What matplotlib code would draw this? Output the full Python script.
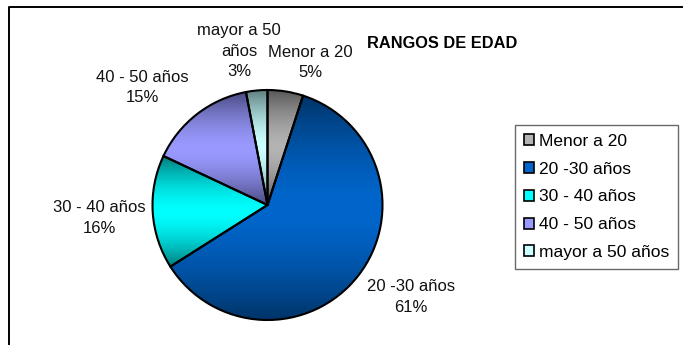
import numpy as np
import matplotlib
matplotlib.use("Agg")
import matplotlib.pyplot as plt
from matplotlib import colors
from matplotlib.patches import Patch

plt.rcParams["font.family"] = ["Liberation Sans", "DejaVu Sans"]

# rangos de edad (porcentaje)
categorias = ["Menor a 20", "20 -30 años", "30 - 40 años", "40 - 50 años", "mayor a 50 años"]
etiquetas = ["Menor a 20", "20 -30 años", "30 - 40 años", "40 - 50 años", "mayor a 50\naños"]
valores = [5, 61, 16, 15, 3]

claros = ["#b4b4b4", "#0066cc", "#00ffff", "#9999ff", "#ccffff"]
oscuros = ["#585858", "#003366", "#007a7a", "#4a4a80", "#5f8080"]

W, H = 683, 345
fig = plt.figure(figsize=(W / 100, H / 100), dpi=100)
ax = fig.add_axes([0, 0, 1, 1])

# marco del gráfico (solo se ven arriba y a la izquierda)
ax.plot([8.5, 8.5, W + 5], [-5, H - 6.5, H - 6.5], color="black", lw=1.4, zorder=1)

cx, cy, r = 267.5, H - 205, 115
wedges, _ = ax.pie(valores, startangle=90, counterclock=False, center=(cx, cy),
                   radius=r, colors=claros, frame=True,
                   wedgeprops=dict(edgecolor="black", linewidth=1.5))
ax.set_xlim(0, W); ax.set_ylim(0, H)
ax.set_aspect("equal"); ax.axis("off")

# relleno degradado oscuro-claro-oscuro dentro de cada porción
t = np.linspace(0, 1, 256)
perfil = np.clip(1 - np.abs(2 * t - 1) ** 1.6, 0, 1)
for w, c1, c0 in zip(wedges, claros, oscuros):
    v = w.get_patch_transform().transform(w.get_path().vertices)
    x0, x1 = v[:, 0].min(), v[:, 0].max()
    y0, y1 = v[:, 1].min(), v[:, 1].max()
    a, b = np.array(colors.to_rgb(c0)), np.array(colors.to_rgb(c1))
    img = a + (b - a) * perfil[:, None]
    im = ax.imshow(img[:, None, :], extent=(x0, x1, y0, y1), origin="lower",
                   aspect="auto", interpolation="bilinear", zorder=2)
    im.set_clip_path(w)
    w.set_facecolor("none"); w.set_zorder(3)
ax.set_xlim(0, W); ax.set_ylim(0, H)

# etiquetas de las porciones: nombre y porcentaje
pos_etiquetas = [(310, 62.5), (411, 297), (99, 218), (142, 87.5), (239, 51)]
for lab, val, (x, y) in zip(etiquetas, valores, pos_etiquetas):
    ax.text(x, H - y, f"{lab}\n{val}%", ha="center", va="center", fontsize=12,
            linespacing=1.47, color="#111111", zorder=4, multialignment="center")

ax.text(442, H - 44, "RANGOS DE EDAD", ha="center", va="center", fontsize=11.8,
        fontweight="bold", zorder=4)

handles = [Patch(facecolor=c, edgecolor="black", linewidth=1.2) for c in claros]
leg = ax.legend(handles, categorias, loc="upper left", bbox_to_anchor=(515 / W, 1 - 125 / H),
                frameon=True, fancybox=False, edgecolor="#444444", fontsize=12.5,
                handlelength=0.6, handleheight=0.6, handletextpad=0.3,
                labelspacing=0.74, borderpad=0.5, borderaxespad=0)
leg.get_frame().set_linewidth(1.0)

fig.savefig("out.png", dpi=100)
